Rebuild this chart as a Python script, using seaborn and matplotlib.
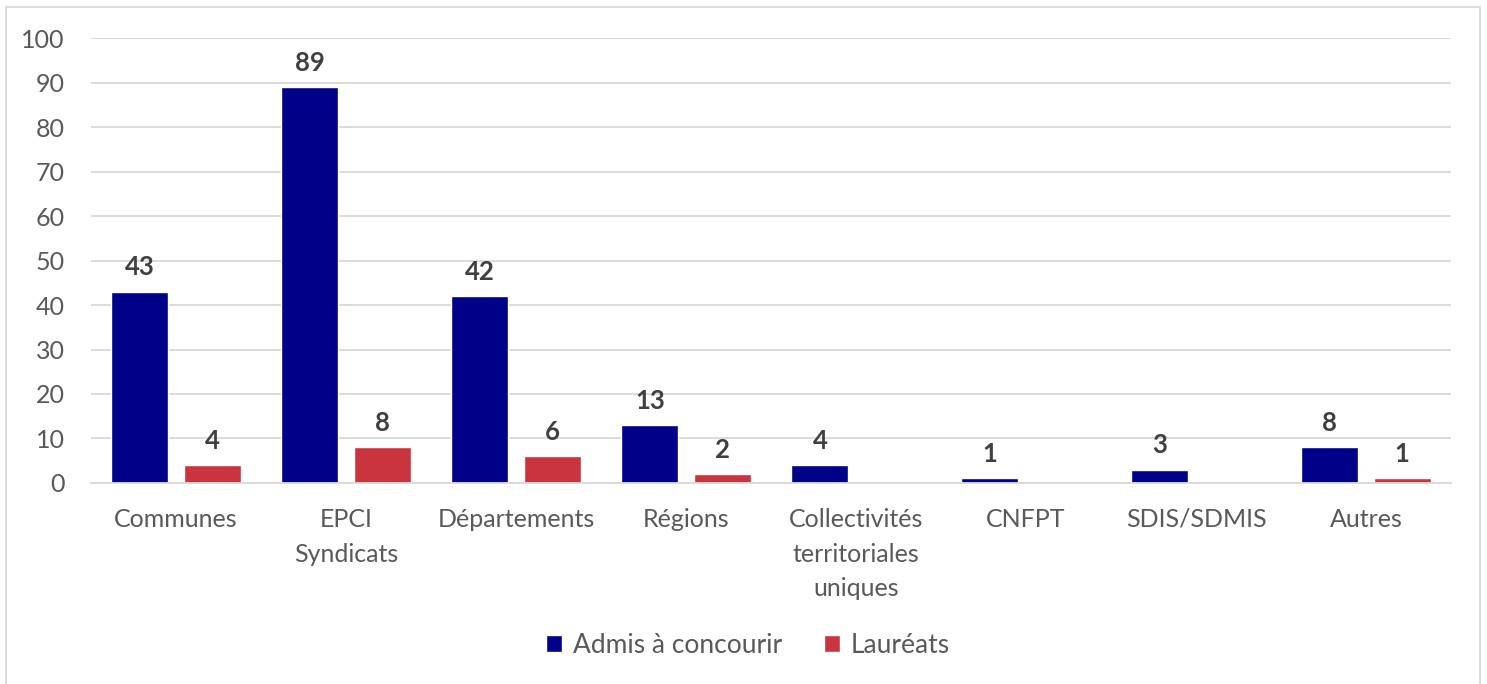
import pandas as pd
import matplotlib.pyplot as plt
import seaborn as sns
from matplotlib.patches import Rectangle

# données
categories = ['Communes', 'EPCI\nSyndicats', 'Départements', 'Régions',
              'Collectivités\nterritoriales\nuniques', 'CNFPT', 'SDIS/SDMIS', 'Autres']
admis = [43, 89, 42, 13, 4, 1, 3, 8]
laureats = [4, 8, 6, 2, 0, 0, 0, 1]
series = ['Admis à concourir', 'Lauréats']
colors = ['#000088', '#C9343F']

df = pd.DataFrame({
    'categorie': categories * 2,
    'valeur': admis + laureats,
    'serie': [series[0]] * len(categories) + [series[1]] * len(categories),
})

sns.set_style('white')
plt.rcParams['font.family'] = ['Lato', 'DejaVu Sans']

fig = plt.figure(figsize=(14.87, 6.84), dpi=100)
ax = fig.add_axes([0.0612, 0.294, 0.9146, 0.650])

sns.barplot(data=df, x='categorie', y='valeur', hue='serie', hue_order=series,
            palette=colors, width=0.85, gap=0.21, saturation=1, ax=ax,
            legend=True)

# étiquettes de valeurs (pas de zéros)
for cont in ax.containers:
    labels = [f'{int(b.get_height())}' if b.get_height() > 0 else '' for b in cont]
    ax.bar_label(cont, labels=labels, padding=9, fontsize=18.5, fontweight='bold',
                 color='#404040')

ax.set_ylim(0, 100)
ax.set_yticks(range(0, 101, 10))
ax.set_xlim(-0.5, len(categories) - 0.5)
ax.yaxis.grid(True, color='#D9D9D9', lw=1.3)
ax.set_axisbelow(True)
for s in ['top', 'right', 'left']:
    ax.spines[s].set_visible(False)
ax.spines['bottom'].set_color('#D9D9D9')
ax.spines['bottom'].set_linewidth(1.3)
ax.tick_params(axis='both', length=0, labelsize=18, labelcolor='#595959')
ax.tick_params(axis='x', pad=18)
ax.tick_params(axis='y', pad=19)
for lbl in ax.get_xticklabels():
    lbl.set_linespacing(1.62)
ax.set_xlabel('')
ax.set_ylabel('')

ax.legend(loc='center', bbox_to_anchor=(0.483, -0.366), ncol=2, frameon=False,
          fontsize=19, labelcolor='#595959', handlelength=0.6, handleheight=0.6,
          handletextpad=0.4, columnspacing=1.6)

fig.patches.append(Rectangle((0.004, -0.01), 0.991, 1.0, transform=fig.transFigure,
                             fill=False, edgecolor='#D9D9D9', lw=1.3))

fig.savefig('out.png', dpi=100, facecolor='white')
